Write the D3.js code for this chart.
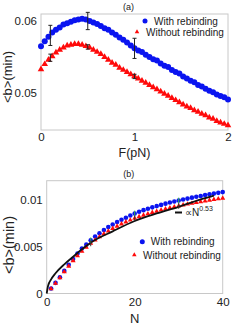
<!DOCTYPE html>
<html>
<head>
<meta charset="utf-8">
<title>rebinding</title>
<script src="https://d3js.org/d3.v7.min.js"></script>
<style>
  body { margin: 0; background: #fff; }
  text { font-family: 'Liberation Sans', Arial, sans-serif; fill: #222; }
</style>
</head>
<body>
<svg id="chart" width="240" height="330"></svg>
<script>
// ---- panel (a): <b> vs F ----
var forceF = d3.range(51).map(function (i) { return +(i * 0.04).toFixed(2); });
var withA = [0.0565, 0.0572, 0.0578, 0.0584, 0.0588, 0.0591, 0.0595, 0.0597, 0.0599, 0.0601,
             0.0602, 0.0603, 0.0602, 0.0600, 0.0598, 0.0596, 0.0593, 0.0590, 0.0588, 0.0584,
             0.0581, 0.0577, 0.0574, 0.0570, 0.0566, 0.0562, 0.0559, 0.0557, 0.0553, 0.0550,
             0.0547, 0.0545, 0.0541, 0.0538, 0.0536, 0.0532, 0.0529, 0.0527, 0.0523, 0.0520,
             0.0517, 0.0515, 0.0511, 0.0509, 0.0506, 0.0503, 0.0501, 0.0498, 0.0496, 0.0494, 0.0491];
var withoutA = [0.0533, 0.0540, 0.0546, 0.0551, 0.0556, 0.0560, 0.0563, 0.0566, 0.0567, 0.0568,
                0.0568, 0.0567, 0.0565, 0.0563, 0.0560, 0.0557, 0.0554, 0.0550, 0.0546, 0.0542,
                0.0539, 0.0535, 0.0532, 0.0529, 0.0526, 0.0523, 0.0520, 0.0517, 0.0514, 0.0511,
                0.0508, 0.0505, 0.0502, 0.0499, 0.0496, 0.0493, 0.0490, 0.0487, 0.0484, 0.0481,
                0.0479, 0.0476, 0.0474, 0.0471, 0.0469, 0.0466, 0.0464, 0.0461, 0.0459, 0.0457, 0.0455];
// error bars: [F, mean, half-width]
var errWithA = [[0.1, 0.0580, 0.0014], [0.5, 0.0600, 0.0012], [1.0, 0.0562, 0.0014]];
var errWithoutA = [[0.1, 0.0549, 0.0005], [0.5, 0.0564, 0.0003], [1.0, 0.0523, 0.0003]];
var ticksFx = [0, 1, 2];
var ticksFy = [0.05, 0.06];

// ---- panel (b): <b> vs N ----
var nVals = d3.range(1, 41);
var withB = [0.00053, 0.00113, 0.00173, 0.00240, 0.00304, 0.00367, 0.00424, 0.00477, 0.00519, 0.00565,
             0.00605, 0.00640, 0.00675, 0.00705, 0.00733, 0.00760, 0.00783, 0.00805, 0.00828, 0.00850,
             0.00868, 0.00885, 0.00900, 0.00915, 0.00928, 0.00941, 0.00954, 0.00966, 0.00977, 0.00988,
             0.00998, 0.01008, 0.01018, 0.01027, 0.01036, 0.01045, 0.01053, 0.01061, 0.01069, 0.01077];
var withoutB = [0.00050, 0.00108, 0.00166, 0.00230, 0.00290, 0.00348, 0.00400, 0.00448, 0.00492, 0.00532,
                0.00568, 0.00602, 0.00634, 0.00662, 0.00690, 0.00714, 0.00738, 0.00760, 0.00780, 0.00798,
                0.00815, 0.00831, 0.00846, 0.00860, 0.00873, 0.00886, 0.00898, 0.00909, 0.00920, 0.00930,
                0.00940, 0.00949, 0.00958, 0.00967, 0.00975, 0.00983, 0.00991, 0.00998, 0.01005, 0.01012];
var fitN = [0, 0.3, 1, 2, 4, 6, 8, 10, 15, 20, 25, 30, 35, 38];
var fitB = [0, 0.0008, 0.0015, 0.00215, 0.0031, 0.0039, 0.0047, 0.0054, 0.0066, 0.0077, 0.0085, 0.0092, 0.0100, 0.0104];
var errWithB = [[10, 0.00565, 0.0003], [20, 0.00850, 0.0003], [30, 0.00988, 0.0003]];
var errWithoutB = [[10, 0.00532, 0.0003], [20, 0.00798, 0.0003], [30, 0.00930, 0.0003]];
var ticksNx = [0, 20, 40];
var ticksNy = [0, 0.005, 0.01];

var blue = "#0a14f0", red = "#ff0a0a", frame = "#c8c8c8";
var svg = d3.select("#chart");

function panel(o) {
  var g = svg.append("g");
  var x = d3.scaleLinear().domain(o.xd).range([o.l, o.r]);
  var y = d3.scaleLinear().domain(o.yd).range(o.yr);

  g.append("rect").attr("x", o.l).attr("y", o.t)
    .attr("width", o.r - o.l).attr("height", o.b - o.t)
    .attr("fill", "none").attr("stroke", frame).attr("stroke-width", 1);

  var ax = g.append("g").attr("transform", "translate(0," + o.b + ")")
    .call(d3.axisBottom(x).tickValues(o.xt).tickSize(0).tickPadding(o.xpad).tickFormat(d3.format("d")));
  var ay = g.append("g").attr("transform", "translate(" + o.l + ",0)")
    .call(d3.axisLeft(y).tickValues(o.yt).tickSize(0).tickPadding(4).tickFormat(function (d) { return d === 0 ? "0" : String(+d.toFixed(3)); }));
  [ax, ay].forEach(function (a) {
    a.select(".domain").remove();
    a.selectAll("text").style("font-family", "'Liberation Sans', Arial, sans-serif")
      .style("font-size", "11.5px").attr("fill", "#222");
  });

  g.append("text").attr("x", (o.l + o.r) / 2 - 6).attr("y", o.t - 4)
    .attr("text-anchor", "middle").style("font-size", "9px").text(o.title);
  g.append("text").attr("x", (o.l + o.r) / 2).attr("y", o.xly)
    .attr("text-anchor", "middle").style("font-size", o.xls).text(o.xlabel);
  g.append("text").attr("transform", "translate(" + o.ylx + "," + o.yly + ") rotate(-90)")
    .attr("text-anchor", "middle").style("font-size", o.yls).text("<b>(min)");

  return { g: g, x: x, y: y };
}

function errBars(p, data, color, cap) {
  p.g.append("g").selectAll("path").data(data).join("path")
    .attr("d", function (d) {
      var cx = p.x(d[0]), y0 = p.y(d[1] - d[2]), y1 = p.y(d[1] + d[2]);
      return "M" + cx + "," + y0 + "V" + y1 +
        (cap ? "M" + (cx - cap) + "," + y0 + "H" + (cx + cap) + "M" + (cx - cap) + "," + y1 + "H" + (cx + cap) : "");
    })
    .attr("stroke", color).attr("stroke-width", 1).attr("fill", "none");
}

var tri = d3.symbol().type(d3.symbolTriangle);

// panel (a)
var pa = panel({ xd: [0, 2], yd: [0.05, 0.06], yr: [93, 21], l: 41, r: 228, t: 14, b: 130,
  xt: ticksFx, yt: ticksFy, xpad: 3, title: "(a)", xlabel: "F(pN)", xly: 157, xls: "12.5px",
  ylx: 11.5, yly: 77, yls: "13px" });
pa.g.append("g").selectAll("circle").data(forceF).join("circle")
  .attr("cx", function (d) { return pa.x(d); })
  .attr("cy", function (d, i) { return pa.y(withA[i]); })
  .attr("r", 3).attr("fill", blue);
pa.g.append("g").selectAll("path").data(forceF).join("path")
  .attr("transform", function (d, i) { return "translate(" + pa.x(d) + "," + pa.y(withoutA[i]) + ")"; })
  .attr("d", tri.size(19)).attr("fill", red);
errBars(pa, errWithA, "#222", 2);
errBars(pa, errWithoutA, "#222", 2);
// legend (a)
pa.g.append("circle").attr("cx", 145).attr("cy", 21).attr("r", 2.5).attr("fill", blue);
pa.g.append("text").attr("x", 154).attr("y", 24.5).style("font-size", "10px").text("With rebinding");
pa.g.append("path").attr("transform", "translate(137,32)").attr("d", tri.size(9)).attr("fill", red);
pa.g.append("text").attr("x", 146).attr("y", 35.5).style("font-size", "10px").text("Without rebinding");

// panel (b)
var pb = panel({ xd: [0, 40], yd: [0, 0.012], yr: [293.5, 180.5], l: 46.7, r: 222.7, t: 180.7, b: 293.5,
  xt: ticksNx, yt: ticksNy, xpad: 4, title: "(b)", xlabel: "N", xly: 323, xls: "13px",
  ylx: 13.5, yly: 245, yls: "14.5px" });
pb.g.append("g").selectAll("circle").data(nVals).join("circle")
  .attr("cx", function (d) { return pb.x(d); })
  .attr("cy", function (d, i) { return pb.y(withB[i]); })
  .attr("r", 2.3).attr("fill", blue);
pb.g.append("g").selectAll("path").data(nVals).join("path")
  .attr("transform", function (d, i) { return "translate(" + pb.x(d) + "," + pb.y(withoutB[i]) + ")"; })
  .attr("d", tri.size(11)).attr("fill", red);
pb.g.append("path").datum(fitN)
  .attr("d", d3.line().x(function (d) { return pb.x(d); })
    .y(function (d, i) { return pb.y(fitB[i]); }).curve(d3.curveMonotoneX))
  .attr("fill", "none").attr("stroke", "#111").attr("stroke-width", 1.8);
errBars(pb, errWithB, "#33b050", 0);
errBars(pb, errWithoutB, "#333", 0);
// legend (b)
pb.g.append("line").attr("x1", 175).attr("x2", 182).attr("y1", 212.5).attr("y2", 212.5)
  .attr("stroke", "#111").attr("stroke-width", 2);
var fitLbl = pb.g.append("text").attr("x", 185).attr("y", 216).style("font-size", "10px");
fitLbl.append("tspan").text("\u221DN");
fitLbl.append("tspan").attr("dy", -5).style("font-size", "7px").text("0.53");
pb.g.append("circle").attr("cx", 142.3).attr("cy", 241.7).attr("r", 2.5).attr("fill", blue);
pb.g.append("text").attr("x", 150.7).attr("y", 245.3).style("font-size", "10px").text("With rebinding");
pb.g.append("path").attr("transform", "translate(134.3,255)").attr("d", tri.size(9)).attr("fill", red);
pb.g.append("text").attr("x", 143).attr("y", 258.6).style("font-size", "10px").text("Without rebinding");
</script>
</body>
</html>
